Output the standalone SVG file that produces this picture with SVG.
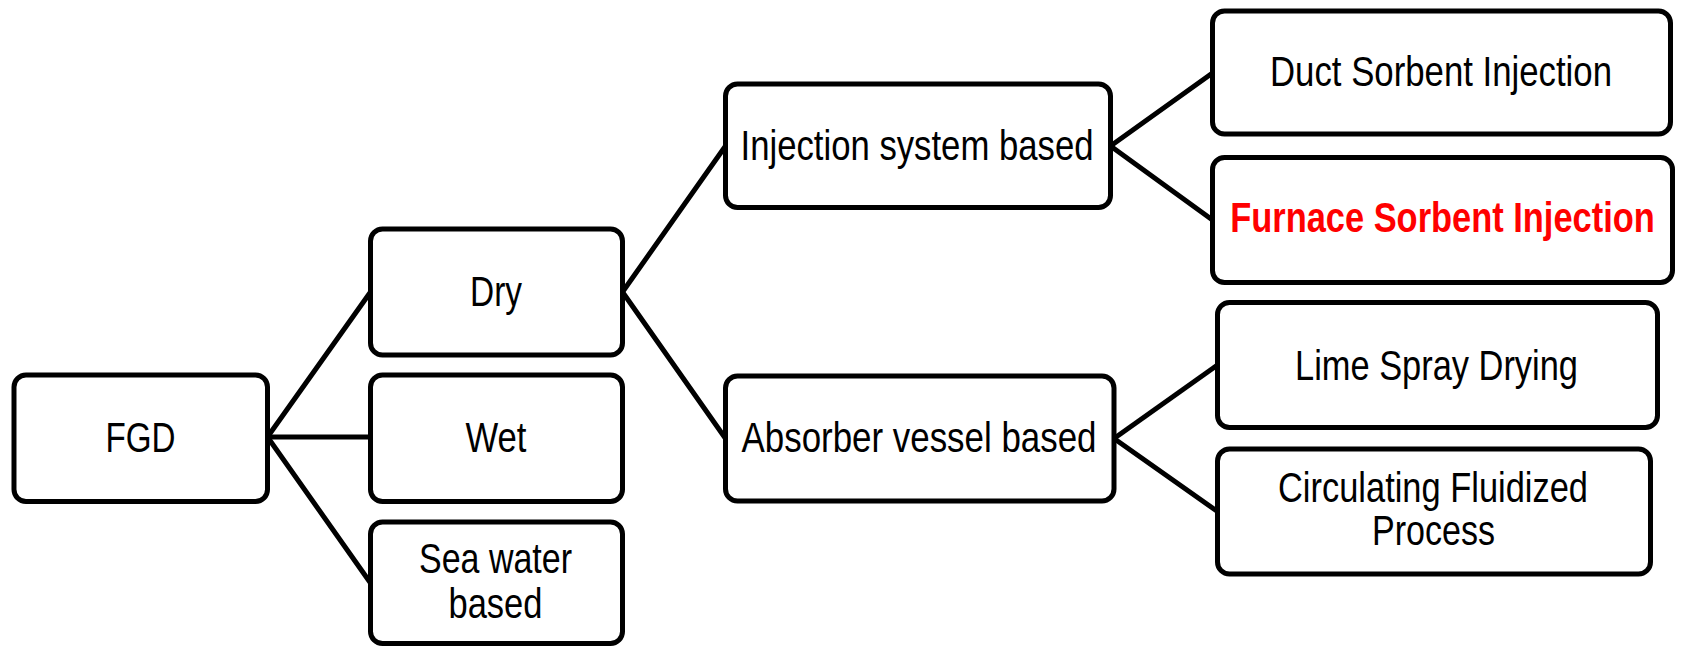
<svg xmlns="http://www.w3.org/2000/svg" width="1682" height="647" viewBox="0 0 1682 647">
<style>
.box{fill:#fff;stroke:#000;stroke-width:5}
.t{font-family:"Liberation Sans Narrow","Liberation Sans",Arial,sans-serif;font-size:42px;fill:#000;text-anchor:middle}
.red{font-family:"Liberation Sans",Arial,sans-serif;fill:#ff0000;font-weight:bold}
.conn line{stroke:#000;stroke-width:5;stroke-linecap:round}
</style>
<rect width="1682" height="647" fill="#fff"/>
<g id="connectors" class="conn">
<line x1="267.5" y1="437" x2="370.5" y2="292"/>
<line x1="267.5" y1="437" x2="370.5" y2="437"/>
<line x1="267.5" y1="437" x2="370.5" y2="583"/>
<line x1="622.5" y1="292" x2="725.5" y2="146"/>
<line x1="622.5" y1="292" x2="725.5" y2="438.5"/>
<line x1="1110.5" y1="146" x2="1212.5" y2="73"/>
<line x1="1110.5" y1="146" x2="1212.5" y2="220"/>
<line x1="1114" y1="438.5" x2="1217.5" y2="365"/>
<line x1="1114" y1="438.5" x2="1217.5" y2="511.5"/>
</g>
<g id="fgd">
<rect class="box" x="14" y="375" width="253.5" height="126.5" rx="12"/>
<text class="t" x="140.5" y="451.5" textLength="70" lengthAdjust="spacingAndGlyphs">FGD</text>
</g>
<g id="dry">
<rect class="box" x="370.5" y="229" width="252" height="126" rx="12"/>
<text class="t" x="496" y="306" textLength="52" lengthAdjust="spacingAndGlyphs">Dry</text>
</g>
<g id="wet">
<rect class="box" x="370.5" y="375" width="252" height="126.5" rx="12"/>
<text class="t" x="496" y="451.5" textLength="61" lengthAdjust="spacingAndGlyphs">Wet</text>
</g>
<g id="seawater">
<rect class="box" x="370.5" y="522" width="252" height="121.5" rx="12"/>
<text class="t" x="495.5" y="573" textLength="153" lengthAdjust="spacingAndGlyphs">Sea water</text>
<text class="t" x="495.5" y="618" textLength="94" lengthAdjust="spacingAndGlyphs">based</text>
</g>
<g id="injection">
<rect class="box" x="725.5" y="84" width="385" height="123.5" rx="12"/>
<text class="t" x="917" y="160" textLength="353" lengthAdjust="spacingAndGlyphs">Injection system based</text>
</g>
<g id="absorber">
<rect class="box" x="725.5" y="376" width="388.5" height="125" rx="12"/>
<text class="t" x="919" y="451.5" textLength="355" lengthAdjust="spacingAndGlyphs">Absorber vessel based</text>
</g>
<g id="duct">
<rect class="box" x="1212.5" y="11" width="458" height="123" rx="12"/>
<text class="t" x="1441" y="86" textLength="342" lengthAdjust="spacingAndGlyphs">Duct Sorbent Injection</text>
</g>
<g id="furnace">
<rect class="box" x="1212.5" y="157.5" width="460" height="125" rx="12"/>
<text class="t red" x="0" y="0" transform="translate(1442.5,231.5) scale(0.82,1)">Furnace Sorbent Injection</text>
</g>
<g id="lime">
<rect class="box" x="1217.5" y="302.5" width="440" height="125" rx="12"/>
<text class="t" x="1436.5" y="379.5" textLength="283" lengthAdjust="spacingAndGlyphs">Lime Spray Drying</text>
</g>
<g id="cfp">
<rect class="box" x="1217.5" y="449" width="433" height="125" rx="12"/>
<text class="t" x="1433" y="501.5" textLength="310" lengthAdjust="spacingAndGlyphs">Circulating Fluidized</text>
<text class="t" x="1433.5" y="545" textLength="123" lengthAdjust="spacingAndGlyphs">Process</text>
</g>
</svg>
